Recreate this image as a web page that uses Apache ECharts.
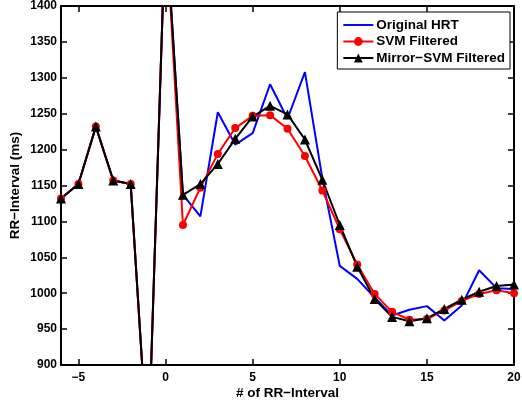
<!DOCTYPE html>
<html>
<head>
<meta charset="utf-8">
<script src="https://cdn.jsdelivr.net/npm/echarts@6/dist/echarts.min.js"></script>
<style>
html,body{margin:0;padding:0;background:#fff;}
#c{width:522px;height:403px;}
</style>
</head>
<body>
<div id="c"></div>
<script>
const beatIndex = [-6,-5,-4,-3,-2,-1,0,1,2,3,4,5,6,7,8,9,10,11,12,13,14,15,16,17,18,19,20];
const originalHRT = [1132,1152,1232,1157,1152,770,1520,1137,1107,1252,1207,1223,1291,1243,1308,1160,1038,1020,994,969,977,982,962,983,1032,1007,1006];
const svmFiltered = [1132,1152,1232,1157,1152,770,1520,1095,1147,1194,1230,1247,1248,1229,1191,1143,1089,1040,999,974,963,964,976,989,999,1004,1000];
const mirrorSvmFiltered = [1132,1152,1232,1157,1152,770,1520,1137,1152,1180,1215,1246,1261,1249,1214,1158,1095,1037,992,967,961,965,978,991,1002,1010,1012];
const xTicks = [-5,0,5,10,15,20];
const seriesNames = ['Original HRT','SVM Filtered','Mirror\u2212SVM Filtered'];

const FONT = '"Liberation Sans", Arial, Helvetica, sans-serif';
const pairs = arr => beatIndex.map((x,i)=>[x,arr[i]]);
const fmt = v => String(v).replace('-', '\u2212');

const chart = echarts.init(document.getElementById('c'), null, {renderer:'canvas'});
const axisLineStyle = {color:'#000', width:2};
const tickStyle = {color:'#000', width:1.5};

chart.setOption({
  animation:false,
  backgroundColor:'#fff',
  grid:{left:61, right:8, top:6, bottom:38, containLabel:false, outerBoundsMode:'none'},
  legend:{
    orient:'vertical', right:12, top:12,
    backgroundColor:'#fff', borderColor:'#000', borderWidth:1,
    padding:[6,5,4,5], itemGap:2.5, itemWidth:30, itemHeight:11,
    textStyle:{fontFamily:FONT, fontWeight:'bold', fontSize:13.5, color:'#000', padding:[0,0,0,-2]},
    data:[
      {name:seriesNames[0], icon:'path://M0,0 L31,0 L31,2 L0,2 Z', itemStyle:{color:'#0000ff'}},
      {name:seriesNames[1]},
      {name:seriesNames[2]}
    ]
  },
  xAxis:[{
    type:'value', min:-6, max:20, position:'bottom',
    name:'# of RR\u2212Interval', nameLocation:'middle', nameGap:21, nameMoveOverlap:false,
    nameTextStyle:{fontFamily:FONT, fontWeight:'bold', fontSize:13.5, color:'#000'},
    axisLine:{show:true, onZero:false, lineStyle:axisLineStyle},
    axisTick:{show:true, inside:true, length:6, lineStyle:tickStyle, customValues:xTicks},
    axisLabel:{fontFamily:FONT, fontWeight:'bold', fontSize:12, color:'#000', margin:7, formatter:fmt, customValues:xTicks},
    splitLine:{show:false}
  },{
    type:'value', min:-6, max:20, position:'top',
    axisLine:{show:true, onZero:false, lineStyle:axisLineStyle},
    axisTick:{show:true, inside:true, length:6, lineStyle:tickStyle, customValues:xTicks},
    axisLabel:{show:false},
    splitLine:{show:false}
  }],
  yAxis:[{
    type:'value', min:900, max:1400, interval:50, position:'left',
    name:'RR\u2212Interval (ms)', nameLocation:'middle', nameGap:39, nameMoveOverlap:false,
    nameTextStyle:{fontFamily:FONT, fontWeight:'bold', fontSize:13.5, color:'#000'},
    axisLine:{show:true, onZero:false, lineStyle:axisLineStyle},
    axisTick:{show:true, inside:true, length:6, lineStyle:tickStyle},
    axisLabel:{fontFamily:FONT, fontWeight:'bold', fontSize:12, color:'#000', margin:4, formatter:v=>String(v)},
    splitLine:{show:false}
  },{
    type:'value', min:900, max:1400, interval:50, position:'right',
    axisLine:{show:true, onZero:false, lineStyle:axisLineStyle},
    axisTick:{show:true, inside:true, length:6, lineStyle:tickStyle},
    axisLabel:{show:false},
    splitLine:{show:false}
  }],
  series:[{
    name:seriesNames[0], type:'line', data:pairs(originalHRT), clip:true,
    symbol:'none', lineStyle:{color:'#0000ff', width:2}, itemStyle:{color:'#0000ff'}
  },{
    name:seriesNames[1], type:'line', data:pairs(svmFiltered), clip:true,
    symbol:'circle', symbolSize:8, showAllSymbol:true,
    lineStyle:{color:'#ff0000', width:2}, itemStyle:{color:'#ff0000'}
  },{
    name:seriesNames[2], type:'line', data:pairs(mirrorSvmFiltered), clip:true,
    symbol:'triangle', symbolSize:10, showAllSymbol:true,
    lineStyle:{color:'#000000', width:2}, itemStyle:{color:'#000000'}
  }]
});
</script>
</body>
</html>
